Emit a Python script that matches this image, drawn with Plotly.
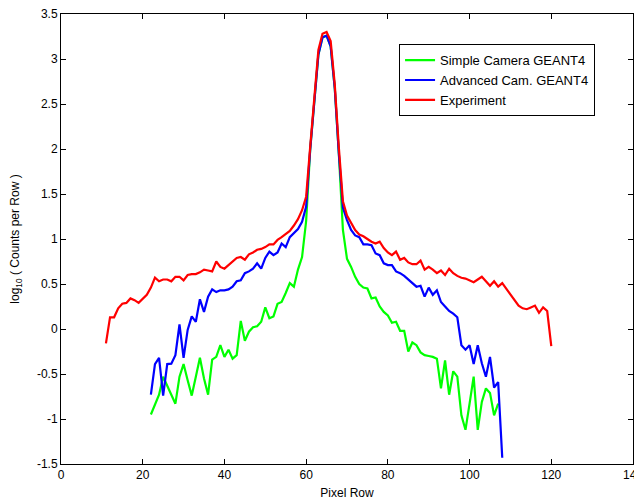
import plotly.graph_objects as go

# ---- data ----
red_x = list(range(11, 121))
red_y = [-0.16, 0.13, 0.13, 0.23, 0.28, 0.29, 0.34, 0.32, 0.29, 0.33,
         0.38, 0.46, 0.57, 0.53, 0.55, 0.55, 0.53, 0.58, 0.58, 0.54,
         0.60, 0.61, 0.61, 0.63, 0.66, 0.65, 0.64, 0.75, 0.69, 0.67,
         0.71, 0.74, 0.79, 0.80, 0.77, 0.83, 0.85, 0.88, 0.89, 0.91,
         0.94, 0.94, 0.99, 1.02, 1.06, 1.09, 1.15, 1.22, 1.32, 1.47,
         2.03, 2.57, 3.10, 3.28, 3.30, 3.20, 2.72, 2.02, 1.42, 1.26,
         1.18, 1.10, 1.05, 1.03, 1.00, 0.97, 0.95, 0.97, 0.90, 0.85,
         0.82, 0.86, 0.77, 0.79, 0.74, 0.72, 0.72, 0.76, 0.66, 0.69,
         0.66, 0.62, 0.65, 0.60, 0.67, 0.62, 0.59, 0.57, 0.56, 0.54,
         0.52, 0.55, 0.58, 0.53, 0.48, 0.53, 0.47, 0.51, 0.45, 0.39,
         0.33, 0.26, 0.23, 0.22, 0.24, 0.26, 0.18, 0.24, 0.20, -0.19]

blue_x = list(range(22, 109))
blue_y = [-0.73, -0.39, -0.32, -0.74, -0.39, -0.385, -0.29, 0.05, -0.32, -0.01,
          0.14, 0.08, 0.33, 0.19, 0.36, 0.44, 0.41, 0.43, 0.43, 0.44,
          0.47, 0.53, 0.54, 0.62, 0.64, 0.67, 0.73, 0.67, 0.79, 0.86,
          0.82, 0.85, 0.95, 0.91, 1.02, 1.06, 1.11, 1.19, 1.36, 2.00,
          2.55, 3.05, 3.24, 3.26, 3.14, 2.68, 1.95, 1.35, 1.21, 1.10,
          1.04, 1.02, 0.94, 0.94, 0.93, 0.84, 0.82, 0.73, 0.71, 0.71,
          0.64, 0.62, 0.59, 0.55, 0.50, 0.47, 0.48, 0.36, 0.46, 0.38,
          0.43, 0.30, 0.25, 0.20, 0.17, 0.13, -0.18, -0.23, -0.18, -0.39,
          -0.18, -0.38, -0.53, -0.31, -0.65, -0.59, -1.43]

green_x = list(range(22, 108))
green_y = [-0.95, -0.84, -0.73, -0.53, -0.63, -0.72, -0.83, -0.53, -0.39, -0.57,
           -0.74, -0.53, -0.32, -0.55, -0.73, -0.34, -0.31, -0.18, -0.31, -0.23,
           -0.33, -0.29, 0.09, -0.13, -0.03, 0.02, 0.03, 0.08, 0.24, 0.12,
           0.14, 0.28, 0.30, 0.40, 0.51, 0.47, 0.66, 0.80, 1.20, 2.00,
           2.55, 3.05, 3.24, 3.26, 3.14, 2.68, 1.95, 1.10, 0.78, 0.69,
           0.58, 0.50, 0.46, 0.45, 0.34, 0.35, 0.25, 0.19, 0.15, 0.07,
           0.08, -0.02, -0.02, -0.25, -0.15, -0.18, -0.26, -0.29, -0.30, -0.31,
           -0.33, -0.66, -0.35, -0.73, -0.47, -0.53, -0.96, -1.12, -0.83, -0.53,
           -1.12, -0.81, -0.66, -0.71, -0.96, -0.83]

series_names = ["Simple Camera GEANT4", "Advanced Cam. GEANT4", "Experiment"]
x_ticks = [0, 20, 40, 60, 80, 100, 120, 140]
x_ticklabels = ["0", "20", "40", "60", "80", "100", "120", "140"]
y_ticks = [-1.5, -1, -0.5, 0, 0.5, 1, 1.5, 2, 2.5, 3, 3.5]
y_ticklabels = ["-1.5", "-1", "-0.5", "0", "0.5", "1", "1.5", "2", "2.5", "3", "3.5"]

FONT = "Liberation Sans, Arial, sans-serif"

fig = go.Figure()
for xs, ys, name, col in [(green_x, green_y, series_names[0], "#00FF00"),
                          (blue_x, blue_y, series_names[1], "#0000FF"),
                          (red_x, red_y, series_names[2], "#FF0000")]:
    fig.add_trace(go.Scatter(x=xs, y=ys, mode="lines", name=name,
                             line=dict(color=col, width=2.2)))

axis_common = dict(showline=True, linecolor="black", linewidth=1, mirror="ticks",
                   ticks="inside", ticklen=5, tickcolor="black", showgrid=False,
                   zeroline=False, automargin=False, ticklabeloverflow="allow",
                   tickfont=dict(family=FONT, size=12, color="black"))

# page body has an 8px margin, so the figure is sized to fit the 642x500 window
fig.update_layout(
    width=634, height=492,
    margin=dict(l=53, r=9, t=6, b=36, autoexpand=False),
    paper_bgcolor="white", plot_bgcolor="white",
    font=dict(family=FONT, size=12, color="black"),
    xaxis=dict(range=[0, 140], tickvals=x_ticks, ticktext=x_ticklabels,
               title=dict(text="Pixel Row", font=dict(family=FONT, size=12)),
               **axis_common),
    yaxis=dict(range=[-1.5, 3.5], tickvals=y_ticks, ticktext=y_ticklabels,
               title=dict(text="log<sub>10</sub> ( Counts per Row )",
                          font=dict(family=FONT, size=12)),
               **axis_common),
    legend=dict(x=0.591, y=0.933, xanchor="left", yanchor="top",
                bordercolor="black", borderwidth=1, bgcolor="white",
                font=dict(family=FONT, size=13), tracegroupgap=0),
    showlegend=True,
)

fig.write_html("out.html")
